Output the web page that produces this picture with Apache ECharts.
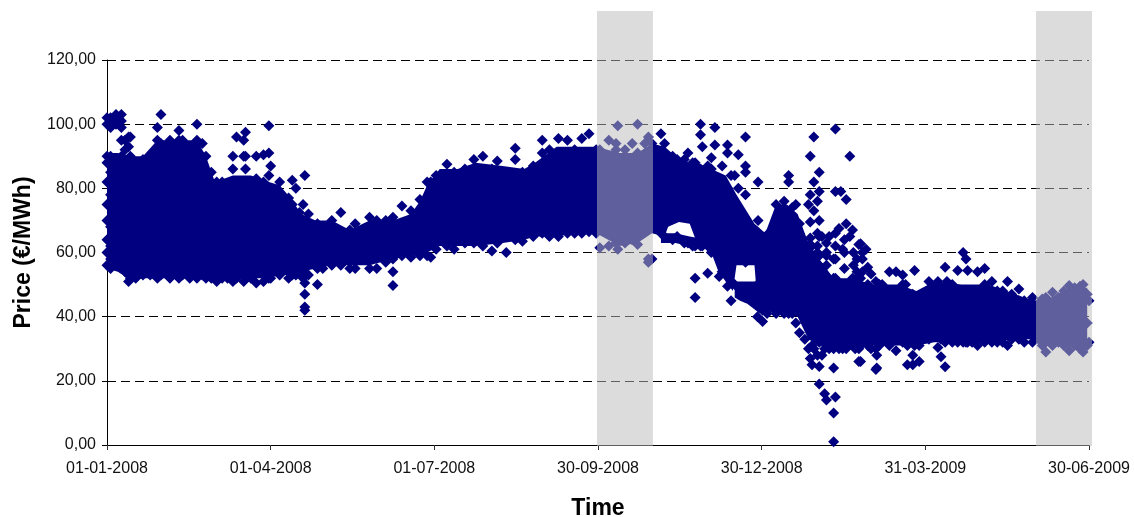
<!DOCTYPE html>
<html><head><meta charset="utf-8">
<style>html,body{margin:0;padding:0;background:#fff}#c{width:1134px;height:517px}</style>
<script src="https://cdn.jsdelivr.net/npm/echarts@6/dist/echarts.min.js"></script>
</head><body><div id="c"></div>
<script>
const xTickLabels=["01-01-2008","01-04-2008","01-07-2008","30-09-2008","30-12-2008","31-03-2009","30-06-2009"];
const bandStarts=[272.2,516.1];
const bandEnds=[303.3,547.2];
// dense core of the cloud: day, lower edge, upper edge
const coreDays=[0,6,12,20,28,40,50,55,60,70,80,90,96,102,108,116,125,135,146,159,169,174,178,185,195,205,220,232,238,250,260,272,285,295,303,310,312,318,324,328,332,336,340,344,348,350,360,362,366,372,378,384,390,396,404,415,425,440,450,460,475,490,505,515,525,535,545];
const coreLow=[55,54,52,52,52,52,52,52,52,52,52,52,53,53,54,55,56,56,56,58,59,59,60,62,62,62,63,64,65,65,66,66,62,63,66,65,68,69.5,69,63,62,60,54,51,48,56,56,42,42,41,41,40,33,31,31,31,31,31,31,32,32,32,33,33,32,31,31];
const coreHigh=[91,91,90,90,95,95,95,90,82,84,84,82,81,77,72,70,70,67,70,70,72,76,81,86,86,88,87,86,88,93,93,93,91,91,94,93,92,89,88,88,87,86,85,84,80,78,69,68,66,75,75,72,63,58,52,52,50,50,48,51,50,50,47,45,46,49,49];
// two smaller dense strings below the main cloud
const stringADays=[308,316,324,334];
const stringALow=[63,63,62,61];
const stringAHigh=[66,66,65,64];
const stringBDays=[349,352,356,363];
const stringBLow=[46,45,44,41];
const stringBHigh=[51,51,51,51];
// each row: day, then the prices read for that day
const priceRows=[
[0,56,60,64,70,75,82,88,90,100,102],[2,55,58,62,68,78,85,90,99,101,102],[5,56,60,72,80,89,100,102,103],[8,55,65,75,85,90,95,99,101,103],
[10,54,58,66,78,88,92,95],[12,51,53,60,70,84,93,96],[13,52,88,90,96],[16,52,56,70,80,88],[20,53,58,72,84,89],[24,53,60,74,82,89],
[28,52,58,68,86,95,99],[30,53,72,88,94,103],[35,52,60,80,92,95],[40,52,58,78,93,95,98],[42,53,70,86,95],[46,52,62,84,93],[50,52,58,80,95,100],
[53,53,66,90,94],[55,52,60,78,90],[58,52,70,85],[61,51,58,80,82],[64,52,66,82],[67,52,60,75,80],[70,51,62,81,86,90],[72,52,70,80,96],
[76,51,60,82,90,95],[77,52,86,90,97.5],[80,52,64,80],[83,50.5,58,78,83,90],[87,51,70,82,90.5],[90,52,60,76,84,91,99.5],[91,52,87],
[96,53,64,82],[101,52,60,77],[103,53,62,75,82.5],[105,53,70,80],[107,54,72.5],[109,52,62,75],[110,42,43,47,50.5,54,66,84],[112,53,60,72],
[117,50,55,64,69],[120,55,68],[125,56,60,70],[130,56,62,72.5],[135,55,60,67],[138,55,62,69],[146,55,64,71],[150,55,60,70],[155,57,66,70],
[159,49.7,54,58,64,71],[164,59,66,74.5],[169,58.5,64,73],[174,59,70,76.5],[178,59,70,82],[180,58.5,64,82],[183,61,72,84],[189,62,74,87.5],
[193,61,70,85],[199,63,76,86],[204,63,72,89],[209,62,78,90],[214,60.5,70,86],[217,63,74,88.5],[222,60,70,84],[227,64,78,89,92.5],
[231,63.5,72,85],[237,65,80,87],[242,66,76,91,95],[246,65,84,92],[251,65,74,95.5],[256,66,82,95],[260,66,78,92],[264,66,86,95.5],
[268,66.5,74,97],[272,66,80,92],[274,61.5,70,92],[279,62,84,95],[283,63,78,92,94],[284,61,99.5],[288,63,80,92],[292,64,84,94],
[295,62.5,78,91,100],[299,68,84,94],[301,57,58,70,96],[303,58,72,90,94],[308,66,72,88,97],[310,65,80,94],[314.5,64,78,90],[317,65,72,89],
[321,63,72,89],[323,63,78,91],[325.6,62,72,88],[327,46,52,62,80,88],[330,62,74,86,96.7,100],[331,62,93],[334,53.5,62,78,87],[336,60,72,86,89.5],
[338,61,80,93.5,99],[340.4,52.5,58.7,78],[342,54,70,87],[345,49.5,54,66,80,91,93.5],[347,45,51,72,84],[349,50,62,84],[351,49,70,80,90.5],
[355,46,57,66,70,78,85,87,96],[358,48,60,66],[361.7,40,44,50,60,66],[362,70,82],[364.5,38.5,42,50,65],[367,41,56,65.5],[372,41,60,75],
[376.5,41,64,76],[379,41,70,82,84],[381,41,58,74],[383,38,54,75],[385,35,46,62,69],[388,33,50,62],[390,30,44,62,75],[391,27,40,64.5,69.5,78,90],
[392,25,31,50,62],[393,30,46,73,82,96],[395,28,52,60,62,66,76],[396,19,24.5,32,56,59,65,70,79,85],[397.5,28,48,65],[399,16,30,50],[400,14,31,56,59,60,63],
[401.5,30,46,65],[404,1,10,24,30,52,58],[405,15,31,52,58,62,66,79,98.5],[407,30,44,67.5],[408,31,50,79],[409,30,48,61],[410,55,60,64],[411,30,50,69,76.5],[413,32,46,65,90],
[414.5,31,52,67],[415,56,60],[416,30,51.5],[417,54,58],[418,26,30,48,62.5],[419,26,31,52,62.7],[420,54,58,60],[422,32,48,61],[423,31,50,55.4],[424.8,30,53.3],[427.5,23.5,30,51],
[428,24,28,48],[429.4,31,50],[431,33,50],[435,31,46,54],[438.7,29.4,48,54],[442.4,32,50,53],[444,32,50],[445,25,31],[448,25,28,47],[449,31,54.4],
[451.6,26,31,46],[457,33,44,51],[462,30.4,44,51],[463.7,27.5,33],[466,24.4,32,55.4],[467,33,51],[470,32,50],[473,32,46,54.4],[476,32,48,60],
[477.6,32,58],[478.5,32,54.4],[481,32,48],[484,31,46,54],[488,32,44,50,55],[492,32,51],[495,32,48],[498,32,48],[500.7,31,44,51],[503,33,47],
[507,33,45,48.6],[510,32,45],[514.6,32,46],[518,33,44],[520,31,45.5],[522,29,32,46],[525.7,31,47.6],[529,32,46],[532,31,48],[535,29.4,32,49.7],
[538,31,49],[541,30,49.5],[542.7,29,32,50],[545,31,38,47],[546,32,45]
];
const NAVY='#000080', FONT='"Liberation Sans",Arial,sans-serif';
const points=[];
priceRows.forEach(r=>r.slice(1).forEach(p=>points.push([r[0],p])));
const toRows=(d,l,h)=>d.map((x,i)=>[x,l[i],h[i]]);
const coreParts=[toRows(coreDays,coreLow,coreHigh),toRows(stringADays,stringALow,stringAHigh),toRows(stringBDays,stringBLow,stringBHigh)];
function renderCore(params,api){
  const rows=coreParts[params.dataIndex];
  const upper=rows.map(r=>api.coord([r[0],r[2]]));
  const lower=rows.map(r=>api.coord([r[0],r[1]])).reverse();
  return {type:'polygon',shape:{points:upper.concat(lower)},style:{fill:NAVY},silent:true};
}
const chart=echarts.init(document.getElementById('c'),null,{renderer:'canvas'});
chart.setOption({
  animation:false,backgroundColor:'#fff',
  grid:[{left:107,right:45,top:60,bottom:72,outerBoundsMode:'none'},{left:107,width:985,top:11,bottom:71,outerBoundsMode:'none'}],
  xAxis:[{type:'value',min:0,max:546,interval:91,gridIndex:0,
    name:'Time',nameLocation:'middle',nameGap:52,nameTextStyle:{fontFamily:FONT,fontSize:23,fontWeight:'bold',color:'#000'},
    axisLine:{onZero:false,lineStyle:{color:'#000',width:1}},axisTick:{show:true,length:5,lineStyle:{color:'#333'}},
    axisLabel:{margin:16,fontFamily:FONT,fontSize:16,color:'#111',formatter:v=>xTickLabels[Math.round(v/91)],showMinLabel:true,showMaxLabel:true,hideOverlap:false},
    splitLine:{show:false}},
    {type:'value',min:0,max:547.2,gridIndex:1,show:false}],
  yAxis:[{type:'value',min:0,max:120,interval:20,gridIndex:0,
    name:'Price (€/MWh)',nameLocation:'middle',nameGap:72,nameTextStyle:{fontFamily:FONT,fontSize:23,fontWeight:'bold',color:'#000'},
    axisLine:{show:true,lineStyle:{color:'#000',width:1}},axisTick:{show:true,length:5,lineStyle:{color:'#000'}},
    axisLabel:{margin:11,padding:[4,0,0,0],fontFamily:FONT,fontSize:16,color:'#111',formatter:v=>v.toFixed(2).replace('.',',')},
    splitLine:{show:true,lineStyle:{color:'#000',width:1,type:[9,5]}}},
    {type:'value',min:0,max:1,gridIndex:1,show:false}],
  series:[
    {type:'custom',data:coreParts.map((p,i)=>[p[0][0],p[0][1],p[0][2]]),renderItem:renderCore,silent:true,clip:false,z:2,encode:{x:0,y:[1,2]}},
    {type:'scatter',name:'Price',data:points,symbol:'diamond',symbolSize:11,clip:false,itemStyle:{color:NAVY,opacity:1},z:3},
    {type:'scatter',xAxisIndex:1,yAxisIndex:1,data:[],z:10,silent:true,
      markArea:{silent:true,z:10,itemStyle:{color:'rgba(186,186,186,0.51)'},
        data:bandStarts.map((s,i)=>[{xAxis:s,yAxis:0},{xAxis:bandEnds[i],yAxis:1}])}}
  ]
});
</script></body></html>
